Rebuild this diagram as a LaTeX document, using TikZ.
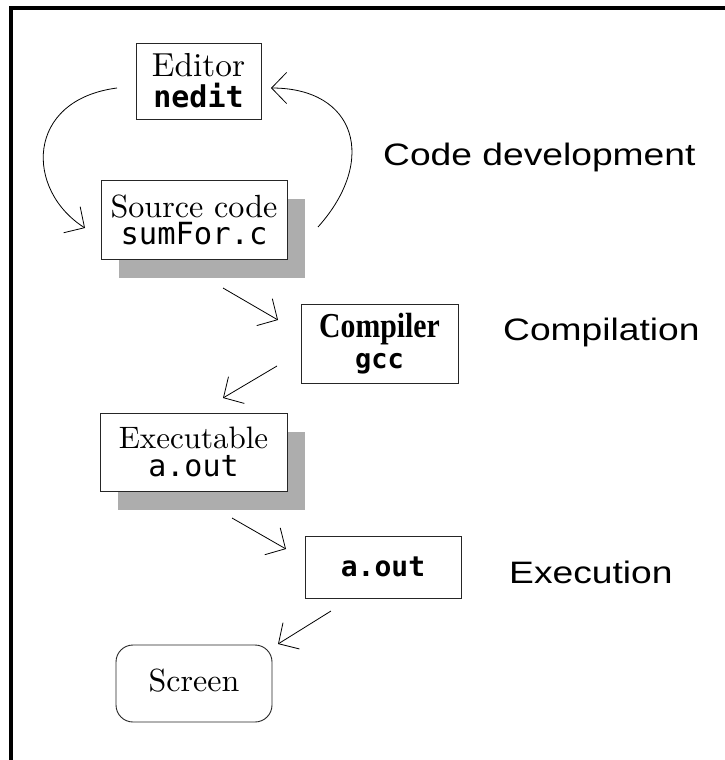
\documentclass[tikz,border=0pt]{standalone}
\usepackage{fontspec}
\newfontfamily\codefont{DejaVu Sans Mono}
\newfontfamily\labelfont{Liberation Sans}
\newfontfamily\heavyserif{Liberation Serif}
\usetikzlibrary{arrows.meta,shadows}

% monospaced program names, size in pt as optional argument
\newcommand{\prog}[2][30]{{\codefont\fontsize{#1}{#1}\selectfont #2}}
% roman text set at 10pt design size and enlarged
\newcommand{\bigroman}[2][3.2]{\scalebox{#1}{\fontsize{10}{12}\selectfont #2}}

\tikzset{
  box/.style={draw=black!85, line width=0.9pt, fill=white, inner sep=0pt,
    align=center, font=\fontsize{32}{27}\selectfont},
  shadowed/.style={drop shadow={shadow xshift=18pt, shadow yshift=-19pt,
    fill=black!32, opacity=1}},
  flow/.style={line width=0.8pt,
    -{Straight Barb[length=15pt,width=31pt,line width=0.8pt]}},
  stage/.style={anchor=base west, inner sep=0pt,
    font=\labelfont\fontsize{31}{31}\selectfont},
}

\begin{document}
\begin{tikzpicture}[x=1pt,y=-1pt]
  \useasboundingbox (0,0) rectangle (725,760);

  % frame along the top and left edges
  \draw[line width=4pt] (11,760) -- (11,8) -- (725,8);

  % tool chain
  \node[box, minimum width=125pt, minimum height=76pt] (editor) at (198.5,81)
    {\bigroman[3.33]{Editor}\\[4pt]\prog{\bfseries nedit}};
  \node[box, shadowed, minimum width=186pt, minimum height=79pt] (source) at (194,219.5)
    {\bigroman[3.21]{Source code}\\\prog[30.5]{sumFor.c}};
  \node[box, minimum width=157pt, minimum height=79pt] (compiler) at (379.5,343.5)
    {\scalebox{0.85}[1]{\heavyserif\bfseries\fontsize{35}{35}\selectfont Compiler}\\[4pt]\prog[27]{\bfseries gcc}};
  \node[box, shadowed, minimum width=187pt, minimum height=78pt] (exec) at (193.5,452)
    {\bigroman[3.1]{Executable}\\[1pt]\prog{a.out}};
  \node[box, minimum width=156pt, minimum height=62pt] (run) at (383,567)
    {\prog[28]{\bfseries a.out}};
  \node[box, rounded corners=17pt, minimum width=156pt, minimum height=77pt,
    text height=22.5pt, text depth=7.5pt] (screen) at (194,683.5)
    {\bigroman[3.2]{Screen}};

  % stage labels
  \node[stage] (devlabel) at (383,165) {\scalebox{1.2}[1]{Code development}};
  \node[stage] (complabel) at (503,340) {\scalebox{1.2}[1]{Compilation}};
  \node[stage] (execlabel) at (509,583) {\scalebox{1.2}[1]{Execution}};

  % edit cycle
  \coordinate (editout) at (117,88);
  \coordinate (srcin) at (85,228);
  \coordinate (srcout) at (318,227);
  \coordinate (editin) at (271,88);
  \draw[flow] (editout) .. controls (25,100) and (25,190) .. (srcin);
  \draw[flow] (srcout) .. controls (378,160) and (356,88) .. (editin);

  % build and run steps
  \coordinate (s1a) at (223,288);  \coordinate (s1b) at (278,320);
  \coordinate (s2a) at (277,366);  \coordinate (s2b) at (223,398);
  \coordinate (s3a) at (232,518);  \coordinate (s3b) at (286,549);
  \coordinate (s4a) at (331,611);  \coordinate (s4b) at (278,644);
  \draw[flow] (s1a) -- (s1b);
  \draw[flow] (s2a) -- (s2b);
  \draw[flow] (s3a) -- (s3b);
  \draw[flow] (s4a) -- (s4b);
\end{tikzpicture}
\end{document}
